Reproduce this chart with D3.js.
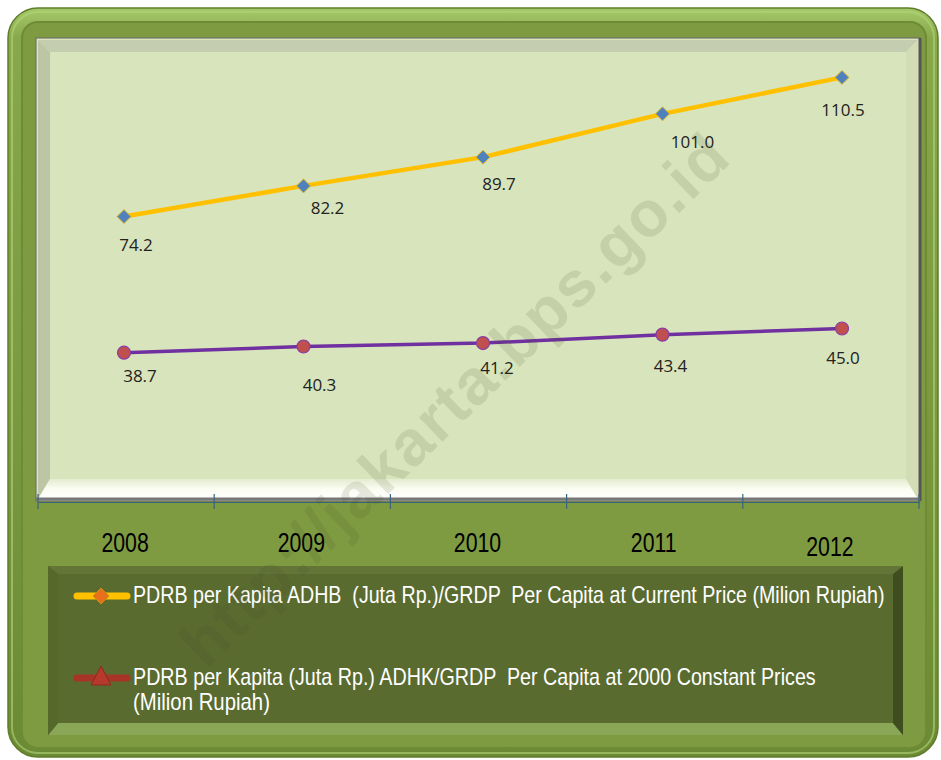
<!DOCTYPE html>
<html><head><meta charset="utf-8">
<script src="https://cdn.jsdelivr.net/npm/d3@7"></script>
<style>body{margin:0;background:#fff}svg{display:block}</style>
</head><body>
<script>
const years = ["2008","2009","2010","2011","2012"];
const currentPrice = [74.2, 82.2, 89.7, 101.0, 110.5];
const constantPrice = [38.7, 40.3, 41.2, 43.4, 45.0];
const seriesNames = [
  "PDRB per Kapita ADHB  (Juta Rp.)/GRDP  Per Capita at Current Price (Milion Rupiah)",
  ["PDRB per Kapita (Juta Rp.) ADHK/GRDP  Per Capita at 2000 Constant Prices", "(Milion Rupiah)"]
];
const yDomain = [0, 120];
// label nudges (layout only)
const nudgeTop = [[12,28],[24,22],[16,27],[30,28],[1,33]];
const nudgeBot = [[16,23],[16,38],[14,25],[8,31],[1,29]];

const W=941,H=760;
const svg=d3.select("body").append("svg").attr("width",W).attr("height",H);
const defs=svg.append("defs");
function lg(id,x1,y1,x2,y2,stops){const g=defs.append("linearGradient").attr("id",id).attr("x1",x1).attr("y1",y1).attr("x2",x2).attr("y2",y2);stops.forEach(s=>g.append("stop").attr("offset",s[0]).attr("stop-color",s[1]));}
lg("rim","0","0","0","1",[[0,"#a6c96a"],[0.04,"#88a84b"],[0.5,"#7c9a40"],[1,"#6b8a33"]]);
lg("bevB","0","0","0","1",[[0,"#e4ecd0"],[0.5,"#fbfdf2"],[1,"#ffffff"]]);

// outer frame
svg.append("rect").attr("x",8).attr("y",8).attr("width",930).attr("height",749).attr("rx",30).attr("fill","url(#rim)").attr("stroke","#5f7d2c").attr("stroke-width",1.5);
svg.append("rect").attr("x",12).attr("y",12).attr("width",922).attr("height",741).attr("rx",26).attr("fill","none").attr("stroke","#b3d67a").attr("stroke-width",2).attr("opacity",0.6);
svg.append("rect").attr("x",22).attr("y",22).attr("width",904).attr("height",726).attr("rx",16).attr("fill","#7f9b42").attr("stroke","#6e8b36").attr("stroke-width",2);

// plot panel
const px0=36,px1=920,py0=38,py1=501;
svg.append("rect").attr("x",px0).attr("y",py0).attr("width",px1-px0).attr("height",py1-py0).attr("fill","#d8e4bc").attr("stroke","#666").attr("stroke-width",1);
svg.append("path").attr("d",`M${px0+2},${py0+2}L${px1-2},${py0+2}L${px1-14},${py0+14}L${px0+14},${py0+14}Z`).attr("fill","#c5cdb0");
svg.append("path").attr("d",`M${px0+2},${py0+2}L${px0+14},${py0+14}L${px0+14},${py1-22}L${px0+2},${py1-2}Z`).attr("fill","#bcc6a4");
svg.append("path").attr("d",`M${px0+2},${py1-2}L${px0+14},${py1-22}L${px1-14},${py1-22}L${px1-2},${py1-2}Z`).attr("fill","url(#bevB)");
svg.append("path").attr("d",`M${px1-2},${py0+2}L${px1-2},${py1-2}L${px1-14},${py1-22}L${px1-14},${py0+14}Z`).attr("fill","#d2ddb6");
svg.append("line").attr("x1",px1).attr("x2",px1).attr("y1",py0).attr("y2",py1).attr("stroke","#555").attr("stroke-width",3);
svg.append("line").attr("x1",px0).attr("x2",px1).attr("y1",py1-2).attr("y2",py1-2).attr("stroke","#777").attr("stroke-width",3);

// scales
const xBand=d3.scaleBand().domain(years).range([38,919]);
const xPt=d3.scalePoint().domain(years).range([124,842]);
const y=d3.scaleLinear().domain(yDomain).range([501,41]);

// axis
const ax=svg.append("g").attr("transform","translate(0,502)")
  .call(d3.axisBottom(xBand).tickSize(0).tickPadding(0).tickFormat(""));
ax.select(".domain").attr("stroke","#3a6478").attr("stroke-width",1.2);
svg.append("g").selectAll("line").data(xBand.domain().map(d=>xBand(d)).concat([xBand.range()[1]]))
  .join("line").attr("x1",d=>d).attr("x2",d=>d).attr("y1",494).attr("y2",509).attr("stroke","#3a6478").attr("stroke-width",1.2);
const yf="'Liberation Sans',Arial,sans-serif";
svg.append("g").selectAll("text").data(years).join("text")
  .attr("transform",(d,i)=>`translate(${xBand(d)+xBand.bandwidth()/2-1},${i===4?556:552}) scale(0.76,1)`)
  .attr("text-anchor","middle").attr("font-family",yf)
  .attr("font-size",28).attr("fill","#000").text(d=>d);

// lines
const line=d3.line().x((d,i)=>xPt(years[i])).y(d=>y(d));
svg.append("path").datum(currentPrice).attr("d",line).attr("fill","none").attr("stroke","#ffc000").attr("stroke-width",4.5);
svg.append("path").datum(constantPrice).attr("d",line).attr("fill","none").attr("stroke","#7030a0").attr("stroke-width",3.5);
svg.append("g").selectAll("path").data(currentPrice).join("path")
  .attr("transform",(d,i)=>`translate(${xPt(years[i])},${y(d)})`)
  .attr("d","M0,-7L7,0L0,7L-7,0Z").attr("fill","#4f81bd").attr("stroke","#e6b820").attr("stroke-width",1);
svg.append("g").selectAll("circle").data(constantPrice).join("circle")
  .attr("cx",(d,i)=>xPt(years[i])).attr("cy",d=>y(d)).attr("r",6.5)
  .attr("fill","#c0504d").attr("stroke","#8a3ca8").attr("stroke-width",1.2);

// labels
const lf="'Open Sans','Noto Sans',sans-serif";
svg.append("g").selectAll("text").data(currentPrice).join("text")
  .attr("x",(d,i)=>xPt(years[i])+nudgeTop[i][0]).attr("y",(d,i)=>y(d)+nudgeTop[i][1]+6)
  .attr("text-anchor","middle").attr("font-family",lf).attr("font-size",17).attr("fill","#222").text(d=>d.toFixed(1));
svg.append("g").selectAll("text").data(constantPrice).join("text")
  .attr("x",(d,i)=>xPt(years[i])+nudgeBot[i][0]).attr("y",(d,i)=>y(d)+nudgeBot[i][1]+6)
  .attr("text-anchor","middle").attr("font-family",lf).attr("font-size",17).attr("fill","#222").text(d=>d.toFixed(1));

// legend
const lx0=48,lx1=903,ly0=566,ly1=735;
svg.append("rect").attr("x",lx0).attr("y",ly0).attr("width",lx1-lx0).attr("height",ly1-ly0).attr("fill","#4b5c25");
svg.append("path").attr("d",`M${lx0},${ly1}L${lx0+10},${ly1-12}L${lx1-10},${ly1-12}L${lx1},${ly1}Z`).attr("fill","#8aa657");
svg.append("path").attr("d",`M${lx0},${ly0}L${lx0+10},${ly0+8}L${lx0+10},${ly1-12}L${lx0},${ly1}Z`).attr("fill","#55692b");
svg.append("path").attr("d",`M${lx1},${ly0}L${lx1-10},${ly0+8}L${lx1-10},${ly1-12}L${lx1},${ly1}Z`).attr("fill","#3f4e1f");
svg.append("rect").attr("x",lx0+10).attr("y",ly0+8).attr("width",lx1-lx0-20).attr("height",ly1-ly0-20).attr("fill","#5a6b30");
svg.append("path").attr("d",`M${lx0},${ly0}L${lx1},${ly0}L${lx1-10},${ly0+8}L${lx0+10},${ly0+8}Z`).attr("fill","#637638");

const tf="'Liberation Sans',Arial,sans-serif";
function fitText(str,x,yy,width){
  const t=svg.append("text").attr("font-family",tf).attr("font-size",23).attr("fill","#fff").attr("xml:space","preserve").text(str);
  const w=t.node().getComputedTextLength();
  t.attr("transform",`translate(${x},${yy}) scale(${width/w},1)`);
}
svg.append("line").attr("x1",77).attr("x2",127).attr("y1",596).attr("y2",596).attr("stroke","#ffc000").attr("stroke-width",7).attr("stroke-linecap","round");
svg.append("path").attr("transform","translate(101,596)").attr("d","M0,-8L8,0L0,8L-8,0Z").attr("fill","#e8701c").attr("stroke","#c79010").attr("stroke-width",1);
fitText(seriesNames[0],133,603,752);
svg.append("line").attr("x1",77).attr("x2",127).attr("y1",678).attr("y2",678).attr("stroke","#a83428").attr("stroke-width",7).attr("stroke-linecap","round");
svg.append("path").attr("transform","translate(101,678)").attr("d","M0,-12L10,7L-10,7Z").attr("fill","#b53a2c").attr("stroke","#8a2a1e").attr("stroke-width",1);
fitText(seriesNames[1][0],133,685,683);
fitText(seriesNames[1][1],133,710,137);

// watermark on top
svg.append("text").attr("transform","translate(470,415) rotate(-44)").attr("text-anchor","middle")
  .attr("font-family","'Liberation Sans',Arial,sans-serif").attr("font-weight","bold").attr("font-size",64)
  .attr("fill","#3d4a20").attr("opacity",0.12).attr("letter-spacing",2).text("http://jakarta.bps.go.id");
</script>
</body></html>
